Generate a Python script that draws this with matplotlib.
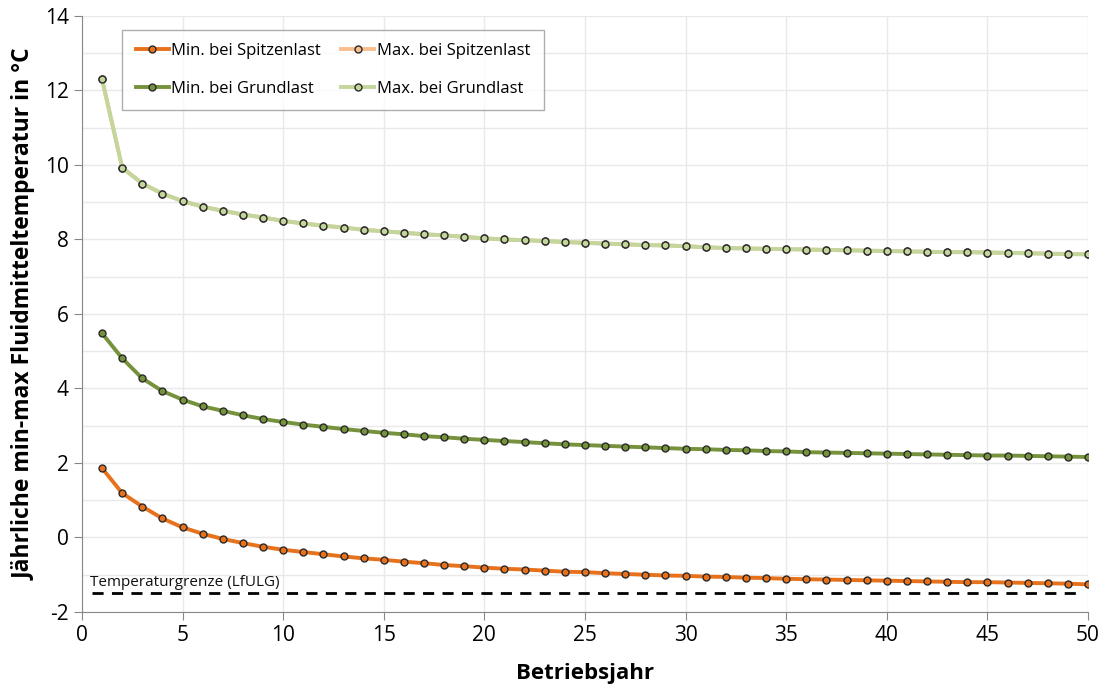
import matplotlib
matplotlib.use("Agg")
import matplotlib.pyplot as plt
from matplotlib.ticker import MultipleLocator

plt.rcParams['font.family'] = ['Open Sans', 'DejaVu Sans']
plt.rcParams['axes.unicode_minus'] = False

years = list(range(1, 51))

min_spitzenlast = [1.86, 1.19, 0.83, 0.51, 0.27, 0.10, -0.04, -0.15, -0.25, -0.33,
                   -0.39, -0.45, -0.51, -0.56, -0.60, -0.65, -0.69, -0.74, -0.77, -0.81,
                   -0.84, -0.86, -0.89, -0.92, -0.93, -0.96, -0.98, -1.00, -1.02, -1.03,
                   -1.05, -1.06, -1.08, -1.09, -1.11, -1.12, -1.13, -1.14, -1.15, -1.16,
                   -1.17, -1.18, -1.19, -1.20, -1.20, -1.21, -1.22, -1.23, -1.24, -1.26]

max_grundlast = [12.30, 9.93, 9.50, 9.23, 9.03, 8.88, 8.77, 8.67, 8.59, 8.50,
                 8.43, 8.37, 8.32, 8.26, 8.22, 8.18, 8.14, 8.11, 8.07, 8.03,
                 8.00, 7.98, 7.96, 7.93, 7.91, 7.89, 7.87, 7.85, 7.84, 7.82,
                 7.79, 7.77, 7.76, 7.75, 7.74, 7.73, 7.72, 7.71, 7.70, 7.69,
                 7.68, 7.67, 7.66, 7.66, 7.65, 7.64, 7.63, 7.62, 7.61, 7.60]

# Max. bei Spitzenlast is hidden beneath Max. bei Grundlast in the reference
max_spitzenlast = list(max_grundlast)

min_grundlast = [5.48, 4.81, 4.27, 3.93, 3.70, 3.52, 3.40, 3.28, 3.18, 3.10,
                 3.03, 2.97, 2.91, 2.86, 2.81, 2.77, 2.72, 2.69, 2.65, 2.62,
                 2.59, 2.56, 2.53, 2.50, 2.48, 2.46, 2.44, 2.42, 2.40, 2.38,
                 2.37, 2.35, 2.34, 2.32, 2.31, 2.29, 2.28, 2.27, 2.26, 2.25,
                 2.24, 2.23, 2.22, 2.21, 2.20, 2.20, 2.19, 2.18, 2.17, 2.16]

temperaturgrenze = -1.5

fig = plt.figure(figsize=(11.03, 6.89), dpi=100)
ax = fig.add_axes([0.0743, 0.1118, 0.9121, 0.865])

mk = dict(marker='o', markersize=5, markeredgecolor='#2a2a2a', markeredgewidth=1.0, lw=2.8)

h1, = ax.plot(years, min_spitzenlast, color='#E8721C', markerfacecolor='#E8721C',
              label='Min. bei Spitzenlast', zorder=5, **mk)
h2, = ax.plot(years, max_spitzenlast, color='#F9BE8E', markerfacecolor='#F9BE8E',
              label='Max. bei Spitzenlast', zorder=3, **mk)
h3, = ax.plot(years, min_grundlast, color='#76923C', markerfacecolor='#76923C',
              label='Min. bei Grundlast', zorder=5, **mk)
h4, = ax.plot(years, max_grundlast, color='#C3D69B', markerfacecolor='#C3D69B',
              label='Max. bei Grundlast', zorder=4, **mk)

ax.axhline(temperaturgrenze, color='black', lw=2, ls=(0, (4, 3)), xmin=0.01, xmax=0.99, zorder=2)
ax.text(0.4, temperaturgrenze + 0.08, 'Temperaturgrenze (LfULG)', fontsize=11,
        va='bottom', ha='left', color='#111111')

ax.set_xlim(0, 50)
ax.set_ylim(-2, 14)
ax.xaxis.set_major_locator(MultipleLocator(5))
ax.yaxis.set_major_locator(MultipleLocator(2))
ax.yaxis.set_minor_locator(MultipleLocator(1))
ax.grid(True, which='both', color='#e9e9e9', lw=1.0, zorder=0)
ax.set_axisbelow(True)
ax.tick_params(axis='both', which='major', labelsize=15, length=6, color='#888888', direction='out')
ax.tick_params(axis='y', which='minor', length=0)
for s in ['top', 'right']:
    ax.spines[s].set_visible(False)
for s in ['left', 'bottom']:
    ax.spines[s].set_color('#888888')

ax.set_xlabel('Betriebsjahr', fontsize=16, fontweight='bold', labelpad=12)
ax.set_ylabel('Jährliche min-max Fluidmitteltemperatur in °C', fontsize=16.5, fontweight='bold', labelpad=6)

leg = ax.legend(handles=[h1, h3, h2, h4], loc='upper left', bbox_to_anchor=(0.04, 0.977),
                borderaxespad=0.0, ncol=2, fontsize=12, frameon=True, fancybox=False,
                edgecolor='#999999', handlelength=2.0, columnspacing=1.2, borderpad=0.8,
                labelspacing=1.3, handletextpad=0.15)
leg.get_frame().set_linewidth(1.0)

fig.savefig('out.png', dpi=100, facecolor='white')
